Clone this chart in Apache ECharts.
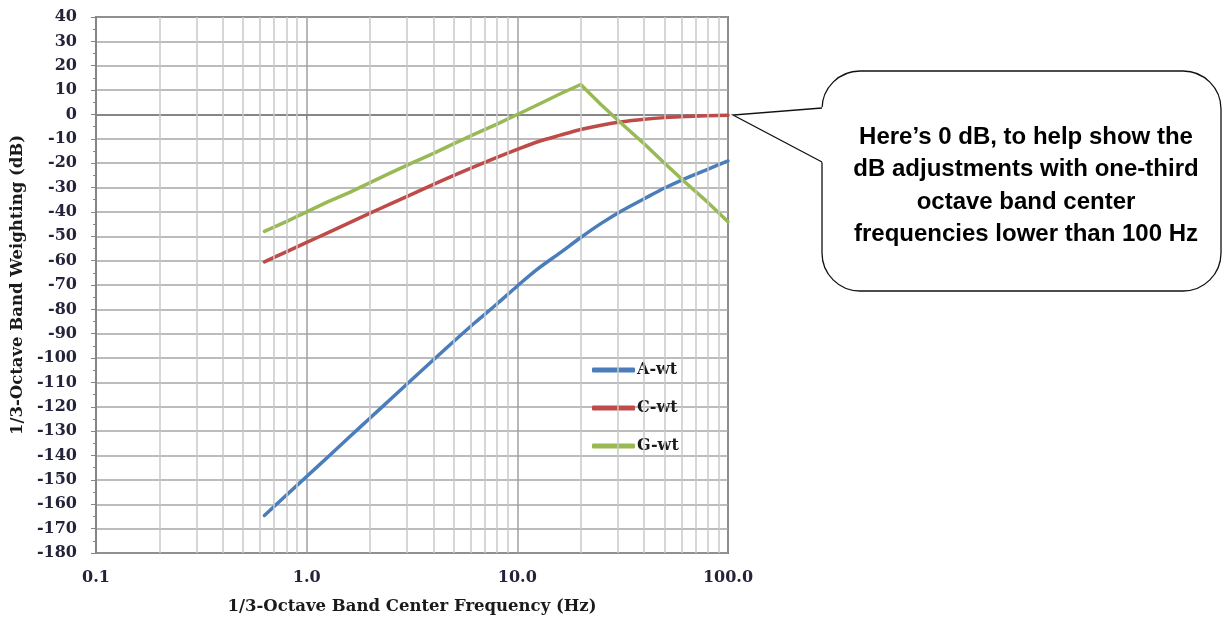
<!DOCTYPE html>
<html>
<head>
<meta charset="utf-8">
<title>Frequency weighting curves</title>
<script src="https://cdn.jsdelivr.net/npm/echarts@6/dist/echarts.min.js"></script>
<style>
  html, body { margin: 0; padding: 0; background: #fff; }
  #chart { width: 1224px; height: 619px; }
</style>
</head>
<body>
<div id="chart"></div>
<script>
// 1/3-octave band center frequencies (Hz)
const freqs = [0.63, 0.8, 1, 1.25, 1.6, 2, 2.5, 3.15, 4, 5, 6.3, 8, 10, 12.5, 16, 20, 25, 31.5, 40, 50, 63, 80, 100]
// weightings (dB)
const aWt = [-164.6, -156.3, -148.6, -140.9, -132.3, -124.6, -116.9, -108.9, -100.7, -93.1, -85.4, -77.8, -70.4, -63.4, -56.7, -50.5, -44.7, -39.4, -34.6, -30.2, -26.2, -22.5, -19.1]
const cWt = [-60.5, -56.4, -52.5, -48.7, -44.4, -40.5, -36.7, -32.8, -28.7, -25.0, -21.3, -17.6, -14.3, -11.2, -8.5, -6.2, -4.4, -3.0, -2.0, -1.3, -0.8, -0.5, -0.3]
const gWt = [-48, -44, -40, -36, -32, -28, -24, -20, -16, -12, -8, -4, 0, 4, 8.5, 12.3, 4, -4, -12, -20, -28, -36, -44]
const seriesNames = ['A-wt', 'C-wt', 'G-wt']
const seriesColors = ['#4a7ebb', '#be4b48', '#98b954']
const seriesSmooth = [0.3, 0.3, false]
// minor log grid lines
const minorFreqs = [0.2, 0.3, 0.4, 0.5, 0.6, 0.7, 0.8, 0.9, 2, 3, 4, 5, 6, 7, 8, 9, 20, 30, 40, 50, 60, 70, 80, 90]

const calloutLines = [
  'Here\u2019s 0 dB, to help show the',
  'dB adjustments with one-third',
  'octave band center',
  'frequencies lower than 100 Hz'
]

const labelColor = '#23233a'
const serif = '"DejaVu Serif", serif'

const pair = (xs, ys) => xs.map((x, i) => [x, ys[i]])

const chart = echarts.init(document.getElementById('chart'))

const option = {
  animation: false,
  backgroundColor: '#fff',
  grid: {
    left: 96, right: 496, top: 17, bottom: 66,
    show: true, borderColor: '#1a1a1a', borderWidth: 1.5
  },
  legend: {
    orient: 'vertical',
    left: 587,
    top: 357,
    itemGap: 22,
    itemWidth: 43,
    itemHeight: 5,
    icon: 'roundRect',
    textStyle: { fontFamily: serif, fontWeight: 'bold', fontSize: 16, color: '#1a1a1a', padding: [0, 0, 0, -3] },
    data: seriesNames
  },
  xAxis: {
    type: 'log',
    logBase: 10,
    min: 0.1,
    max: 100,
    axisLine: { lineStyle: { color: '#868686', width: 2 } },
    axisTick: { show: true, length: 5, lineStyle: { color: '#868686' } },
    axisLabel: {
      margin: 17,
      fontFamily: serif, fontWeight: 'bold', fontSize: 16, color: labelColor,
      formatter: v => Number(v).toFixed(1)
    },
    splitLine: { show: true, lineStyle: { color: '#a0a0a0', width: 1.5 } }
  },
  yAxis: {
    type: 'value',
    min: -180,
    max: 40,
    interval: 10,
    axisLine: { show: true, lineStyle: { color: '#868686', width: 2 } },
    axisTick: { show: true, length: 5, lineStyle: { color: '#868686' } },
    minorTick: { show: true, splitNumber: 2, length: 3, lineStyle: { color: '#868686' } },
    axisLabel: { margin: 19, fontFamily: serif, fontWeight: 'bold', fontSize: 16, color: labelColor },
    splitLine: { show: true, lineStyle: { color: '#a6a6a6', width: 1.5 } }
  },
  series: [
    {
      name: 'grid-minor',
      type: 'line',
      data: [],
      z: -1,
      silent: true,
      markLine: {
        silent: true,
        symbol: ['none', 'none'],
        label: { show: false },
        lineStyle: { color: '#c9c9c9', width: 1.5, type: 'solid' },
        data: minorFreqs.map(v => ({ xAxis: v }))
      }
    },
    ...[aWt, cWt, gWt].map((vals, i) => ({
      name: seriesNames[i],
      type: 'line',
      data: pair(freqs, vals),
      showSymbol: false,
      symbol: 'none',
      smooth: seriesSmooth[i],
      z: 3,
      color: seriesColors[i],
      lineStyle: { width: 3.5, color: seriesColors[i], cap: 'round', join: 'round' }
    }))
  ],
  graphic: [
    // axis titles
    {
      type: 'text',
      x: 412, y: 607,
      style: {
        text: '1/3-Octave Band Center Frequency (Hz)',
        fontFamily: serif, fontWeight: 'bold', fontSize: 16.5, fill: '#1a1a1a',
        align: 'center', verticalAlign: 'middle'
      }
    },
    {
      type: 'text',
      x: 18, y: 285,
      rotation: Math.PI / 2,
      style: {
        text: '1/3-Octave Band Weighting (dB)',
        fontFamily: serif, fontWeight: 'bold', fontSize: 16.5, fill: '#1a1a1a',
        align: 'center', verticalAlign: 'middle'
      }
    },
    // speech bubble
    {
      type: 'rect',
      shape: { x: 822, y: 71, width: 399, height: 220, r: 38 },
      style: { fill: '#fff', stroke: '#111', lineWidth: 1.3 },
      z: 10
    },
    {
      type: 'polygon',
      shape: { points: [[733, 115], [823.5, 107], [823.5, 163]] },
      style: { fill: '#fff' },
      z: 11
    },
    {
      type: 'polyline',
      shape: { points: [[822, 108], [733, 115], [822, 162]] },
      style: { stroke: '#111', lineWidth: 1.3, fill: null },
      z: 12
    },
    {
      type: 'text',
      x: 1026, y: 186,
      z: 13,
      style: {
        text: calloutLines.join('\n'),
        fontFamily: '"Liberation Sans", Arial, sans-serif',
        fontWeight: 'bold', fontSize: 24, lineHeight: 32.5,
        fill: '#000', align: 'center', verticalAlign: 'middle'
      }
    }
  ]
}

chart.setOption(option)
</script>
</body>
</html>
